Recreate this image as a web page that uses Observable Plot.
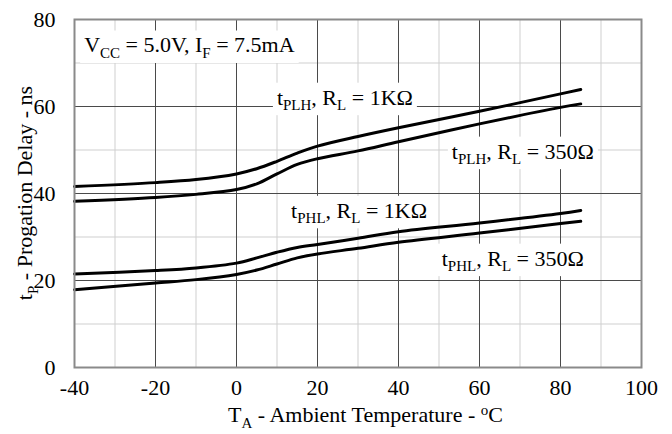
<!DOCTYPE html>
<html>
<head>
<meta charset="utf-8">
<script src="https://cdn.jsdelivr.net/npm/d3@7"></script>
<script src="https://cdn.jsdelivr.net/npm/@observablehq/plot@0.6"></script>
<style>
  html, body { margin: 0; padding: 0; background: #fff; }
  #chart { width: 672px; height: 434px; }
  #chart svg, #chart svg text, #chart svg tspan { font-family: "Liberation Serif", "Times New Roman", serif !important; }
</style>
</head>
<body>
<div id="chart"></div>
<script>
// ---- data ----
const temps   = [-40, -20, -10, 0, 5, 10, 15, 20, 30, 40, 60, 80, 85];
const plh1k   = [41.6, 42.5, 43.2, 44.5, 45.7, 47.4, 49.3, 50.9, 53.1, 55.1, 58.9, 62.9, 63.9];
const plh350  = [38.2, 39.1, 39.8, 40.9, 42.2, 44.5, 46.7, 48.0, 49.8, 51.9, 56.0, 59.8, 60.6];
const phl1k   = [21.5, 22.3, 22.9, 24.0, 25.2, 26.5, 27.6, 28.3, 29.7, 31.2, 33.2, 35.4, 36.1];
const phl350  = [17.9, 19.4, 20.2, 21.4, 22.4, 23.8, 25.2, 26.1, 27.4, 28.8, 30.9, 33.1, 33.6];
const seriesNames = ["tPLH 1K", "tPLH 350", "tPHL 1K", "tPHL 350"];

const xTicks  = [-40, -20, 0, 20, 40, 60, 80, 100];
const yTicks  = [0, 20, 40, 60, 80];
const xMinor  = [-30, -10, 10, 30, 50, 70, 90];
const xMajor  = [-20, 0, 20, 40, 60, 80];
const yMinor  = [10, 30, 50, 70];
const yMajor  = [20, 40, 60];

// annotations: anchor (data coords) and text parts [text, "sub"|"sup"|""]
const noteX = [-37.5, 10.1, 53.3, 13.6, 50.8];
const noteY = [72.3, 60.3, 47.9, 34.3, 23.3];
const noteParts = [
  [["V",""],["CC","sub"],[" = 5.0V, I",""],["F","sub"],[" = 7.5mA",""]],
  [["t",""],["PLH","sub"],[", R",""],["L","sub"],[" = 1K\u03A9",""]],
  [["t",""],["PLH","sub"],[", R",""],["L","sub"],[" = 350\u03A9",""]],
  [["t",""],["PHL","sub"],[", R",""],["L","sub"],[" = 1K\u03A9",""]],
  [["t",""],["PHL","sub"],[", R",""],["L","sub"],[" = 350\u03A9",""]]
];
const xLabelParts = [["T",""],["A","sub"],[" - Ambient Temperature - ",""],["o","sup"],["C",""]];
const yLabelParts = [["t",""],["P","sub"],[" - Progation Delay - ns",""]];

// ---- build table ----
const table = [];
[plh1k, plh350, phl1k, phl350].forEach((vals, i) => {
  temps.forEach((t, j) => table.push({series: seriesNames[i], t, v: vals[j]}));
});

const W = 672, H = 434;
const FONT = "Liberation Serif, Times New Roman, serif";

const chart = Plot.plot({
  width: W,
  height: H,
  marginLeft: 74,
  marginRight: 31,
  marginTop: 19,
  marginBottom: 67,
  style: {fontFamily: FONT, fontSize: "21px", color: "#000", background: "#fff"},
  x: {domain: [-40, 100]},
  y: {domain: [0, 80]},
  marks: [
    Plot.ruleX(xMinor, {stroke: "#cfcfcf", strokeWidth: 1}),
    Plot.ruleY(yMinor, {stroke: "#cfcfcf", strokeWidth: 1}),
    Plot.ruleX(xMajor, {stroke: "#4a4a4a", strokeWidth: 1}),
    Plot.ruleY(yMajor, {stroke: "#4a4a4a", strokeWidth: 1}),
    Plot.line(table, {x: "t", y: "v", z: "series", stroke: "#000", strokeWidth: 3, curve: "catmull-rom"}),
    Plot.frame({stroke: "#8a8a8a", strokeWidth: 2}),
    Plot.axisX({ticks: xTicks, tickSize: 0, tickPadding: 12, label: null, fontSize: 22, fontFamily: FONT, fill: "#000", tickFormat: d => String(d)}),
    Plot.axisY({ticks: yTicks, tickSize: 0, tickPadding: 19, label: null, fontSize: 22, fontFamily: FONT, fill: "#000", tickFormat: d => String(d)})
  ]
});

document.getElementById("chart").appendChild(chart);

const svg = d3.select(chart);
const xs = chart.scale("x"), ys = chart.scale("y");

function richText(sel, parts, size) {
  const subSize = Math.round(size * 0.66);
  let shift = 0;
  parts.forEach(([txt, kind]) => {
    const target = kind === "sub" ? size * 0.25 : kind === "sup" ? -size * 0.34 : 0;
    const ts = sel.append("tspan").text(txt)
      .attr("font-size", kind ? subSize : size);
    if (target !== shift) ts.attr("dy", target - shift);
    shift = target;
  });
}

// annotation group placed under lines
const lineNode = chart.querySelector('[aria-label="line"]');
const g = svg.append("g").attr("class", "notes");
lineNode.parentNode.insertBefore(g.node(), lineNode);

noteParts.forEach((parts, i) => {
  const px = xs.apply(noteX[i]), py = ys.apply(noteY[i]);
  const bg = g.append("rect").attr("fill", "#fff");
  const t = g.append("text")
    .attr("x", px).attr("y", py)
    .attr("text-anchor", "start")
    .attr("font-family", FONT)
    .attr("fill", "#000");
  richText(t, parts, 22);
  const bb = t.node().getBBox();
  bg.attr("x", bb.x - 4).attr("y", bb.y - 2).attr("width", bb.width + 8).attr("height", bb.height + 4);
});

// axis labels
const xr = xs.range, yr = ys.range;
const xl = svg.append("text")
  .attr("x", (xr[0] + xr[1]) / 2 + 8)
  .attr("y", H - 12)
  .attr("text-anchor", "middle")
  .attr("font-family", FONT)
  .attr("fill", "#000");
richText(xl, xLabelParts, 22);

const yl = svg.append("text")
  .attr("transform", `translate(32,${(yr[0] + yr[1]) / 2}) rotate(-90)`)
  .attr("text-anchor", "middle")
  .attr("font-family", FONT)
  .attr("fill", "#000");
richText(yl, yLabelParts, 22);
</script>
</body>
</html>
